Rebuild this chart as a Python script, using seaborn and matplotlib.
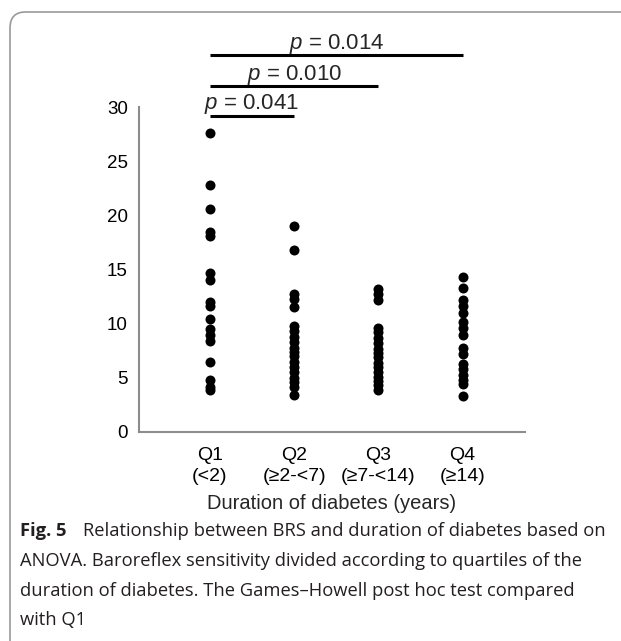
import pandas as pd
import matplotlib
matplotlib.use("Agg")
import matplotlib.pyplot as plt
import seaborn as sns
from matplotlib.patches import FancyBboxPatch

# BRS values per duration quartile
q1_vals = [27.6, 22.8, 20.6, 18.5, 18.1, 14.7, 14.0, 12.0, 11.6, 10.4,
           9.5, 9.0, 8.4, 6.5, 4.8, 4.2, 3.9]
q2_vals = [19.0, 16.8, 12.7, 12.3, 11.5, 9.8, 9.3, 8.8, 8.3, 7.8, 7.4,
           7.0, 6.5, 6.0, 5.5, 5.0, 4.6, 4.2, 3.4]
q3_vals = [13.2, 12.7, 12.2, 9.6, 9.2, 8.7, 8.2, 7.7, 7.3, 6.9, 6.4,
           6.0, 5.5, 5.1, 4.7, 4.3, 3.9]
q4_vals = [14.3, 13.3, 12.2, 11.6, 11.0, 10.2, 9.6, 9.0, 7.8, 7.2, 6.3,
           5.8, 5.3, 4.8, 4.4, 3.3]

groups = ["Q1", "Q2", "Q3", "Q4"]
group_labels = ["Q1\n(<2)", "Q2\n(≥2-<7)", "Q3\n(≥7-<14)", "Q4\n(≥14)"]
y_ticks = [0, 5, 10, 15, 20, 25, 30]

# pairwise comparisons vs Q1
comp_groups = ["Q2", "Q3", "Q4"]
comp_pvals = ["0.041", "0.010", "0.014"]
comp_heights = [29.2, 31.9, 34.8]

rows = []
for g, vals in zip(groups, [q1_vals, q2_vals, q3_vals, q4_vals]):
    for v in vals:
        rows.append({"group": g, "brs": v})
df = pd.DataFrame(rows)

sns.set_style("white")
plt.rcParams["font.family"] = ["Liberation Sans", "DejaVu Sans"]
plt.rcParams["mathtext.fontset"] = "custom"
plt.rcParams["mathtext.it"] = "Liberation Sans:italic"
plt.rcParams["mathtext.rm"] = "Liberation Sans"

W, H = 621, 641
fig = plt.figure(figsize=(W / 100, H / 100), dpi=100)

# rounded panel border
box = FancyBboxPatch((10 / W, 1 - 700 / H), 700 / W, 688 / H,
                     boxstyle="round,pad=0,rounding_size=0.025",
                     transform=fig.transFigure, fill=False,
                     edgecolor="#9a9a9a", linewidth=1.2)
fig.patches.append(box)

ax = fig.add_axes([139 / W, (H - 432) / H, (525 - 139) / W, (432 - 107) / H])
sns.stripplot(data=df, x="group", y="brs", order=groups, jitter=False,
              color="black", size=7.2, linewidth=0, ax=ax)

ax.set_xlim(-0.84, 3.74)
ax.set_ylim(0, 30)
ax.set_yticks(y_ticks)
ax.set_xticks(range(len(groups)))
ax.set_xticklabels(group_labels, fontsize=14, linespacing=1.25)
ax.tick_params(axis="y", labelsize=13.5)
ax.tick_params(axis="both", length=0, colors="black")
ax.tick_params(axis="x", pad=11)
ax.tick_params(axis="y", pad=8)
ax.set_xlabel("Duration of diabetes (years)", fontsize=14.5, labelpad=7)
ax.set_ylabel("")
for side in ["top", "right"]:
    ax.spines[side].set_visible(False)
for side in ["left", "bottom"]:
    ax.spines[side].set_color("#8c8c8c")
    ax.spines[side].set_linewidth(1.5)

# significance bars
for g, p, h in zip(comp_groups, comp_pvals, comp_heights):
    x1 = groups.index(g)
    ax.plot([0, x1], [h, h], color="black", lw=2.2, clip_on=False,
            solid_capstyle="butt")
    ax.text(x1 / 2, h + 0.6, "$p$ = " + p, ha="center", va="baseline",
            fontsize=16, clip_on=False)

# caption
cap_font = ["Open Sans", "DejaVu Sans"]
cap_col = "#231f20"
cap_size = 13.2
fig.text(20 / W, 1 - 531 / H, "Fig. 5", fontsize=cap_size, fontweight="bold",
         family=cap_font, color=cap_col, va="center")
fig.text(83 / W, 1 - 531 / H,
         "Relationship between BRS and duration of diabetes based on",
         fontsize=cap_size, family=cap_font, color=cap_col, va="center")
cap_lines = [
    "ANOVA. Baroreflex sensitivity divided according to quartiles of the",
    "duration of diabetes. The Games–Howell post hoc test compared",
    "with Q1",
]
for i, line in enumerate(cap_lines):
    fig.text(20 / W, 1 - (561 + 29.5 * i) / H, line, fontsize=cap_size,
             family=cap_font, color=cap_col, va="center")

plt.savefig("out.png", dpi=100)
